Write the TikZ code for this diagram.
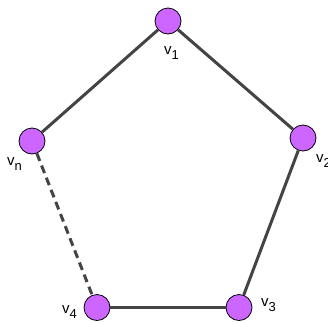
\documentclass[tikz,border=0pt]{standalone}
\usepackage{fontspec}
\setmainfont{Liberation Sans}
\definecolor{vfill}{RGB}{204,102,255}
\definecolor{edgec}{RGB}{68,68,68}
\newcommand{\vlab}[1]{\fontsize{15}{15}\selectfont v\raisebox{-5pt}{\fontsize{13}{13}\selectfont #1}}
\begin{document}
\begin{tikzpicture}[x=1pt,y=-1pt,
  vert/.style={circle,draw=black,line width=0.8pt,fill=vfill,minimum size=26pt,inner sep=0pt},
  edge/.style={draw=edgec,line width=3pt},
  lab/.style={inner sep=0pt,anchor=base west}]
\useasboundingbox (0,0) rectangle (328,322);
\fill[white] (0,0) rectangle (328,322);
\node[vert] (v1) at (168,21) {};
\node[vert] (vn) at (32,141) {};
\node[vert] (v2) at (303,138) {};
\node[vert] (v4) at (97,307.5) {};
\node[vert] (v3) at (239,307.5) {};
\begin{scope}[on background layer/.style={}]
\end{scope}
\draw[edge] (v1) -- (vn);
\draw[edge] (v1) -- (v2);
\draw[edge] (v2) -- (v3);
\draw[edge] (v3) -- (v4);
\draw[edge,dash pattern=on 8pt off 5pt] (vn) -- (v4);
\node[lab] (l1) at (164,54) {\vlab{1}};
\node[lab] (ln) at (7,165) {\vlab{n}};
\node[lab] (l2) at (316,162) {\vlab{2}};
\node[lab] (l4) at (62,313) {\vlab{4}};
\node[lab] (l3) at (261,306) {\vlab{3}};
\end{tikzpicture}
\end{document}
